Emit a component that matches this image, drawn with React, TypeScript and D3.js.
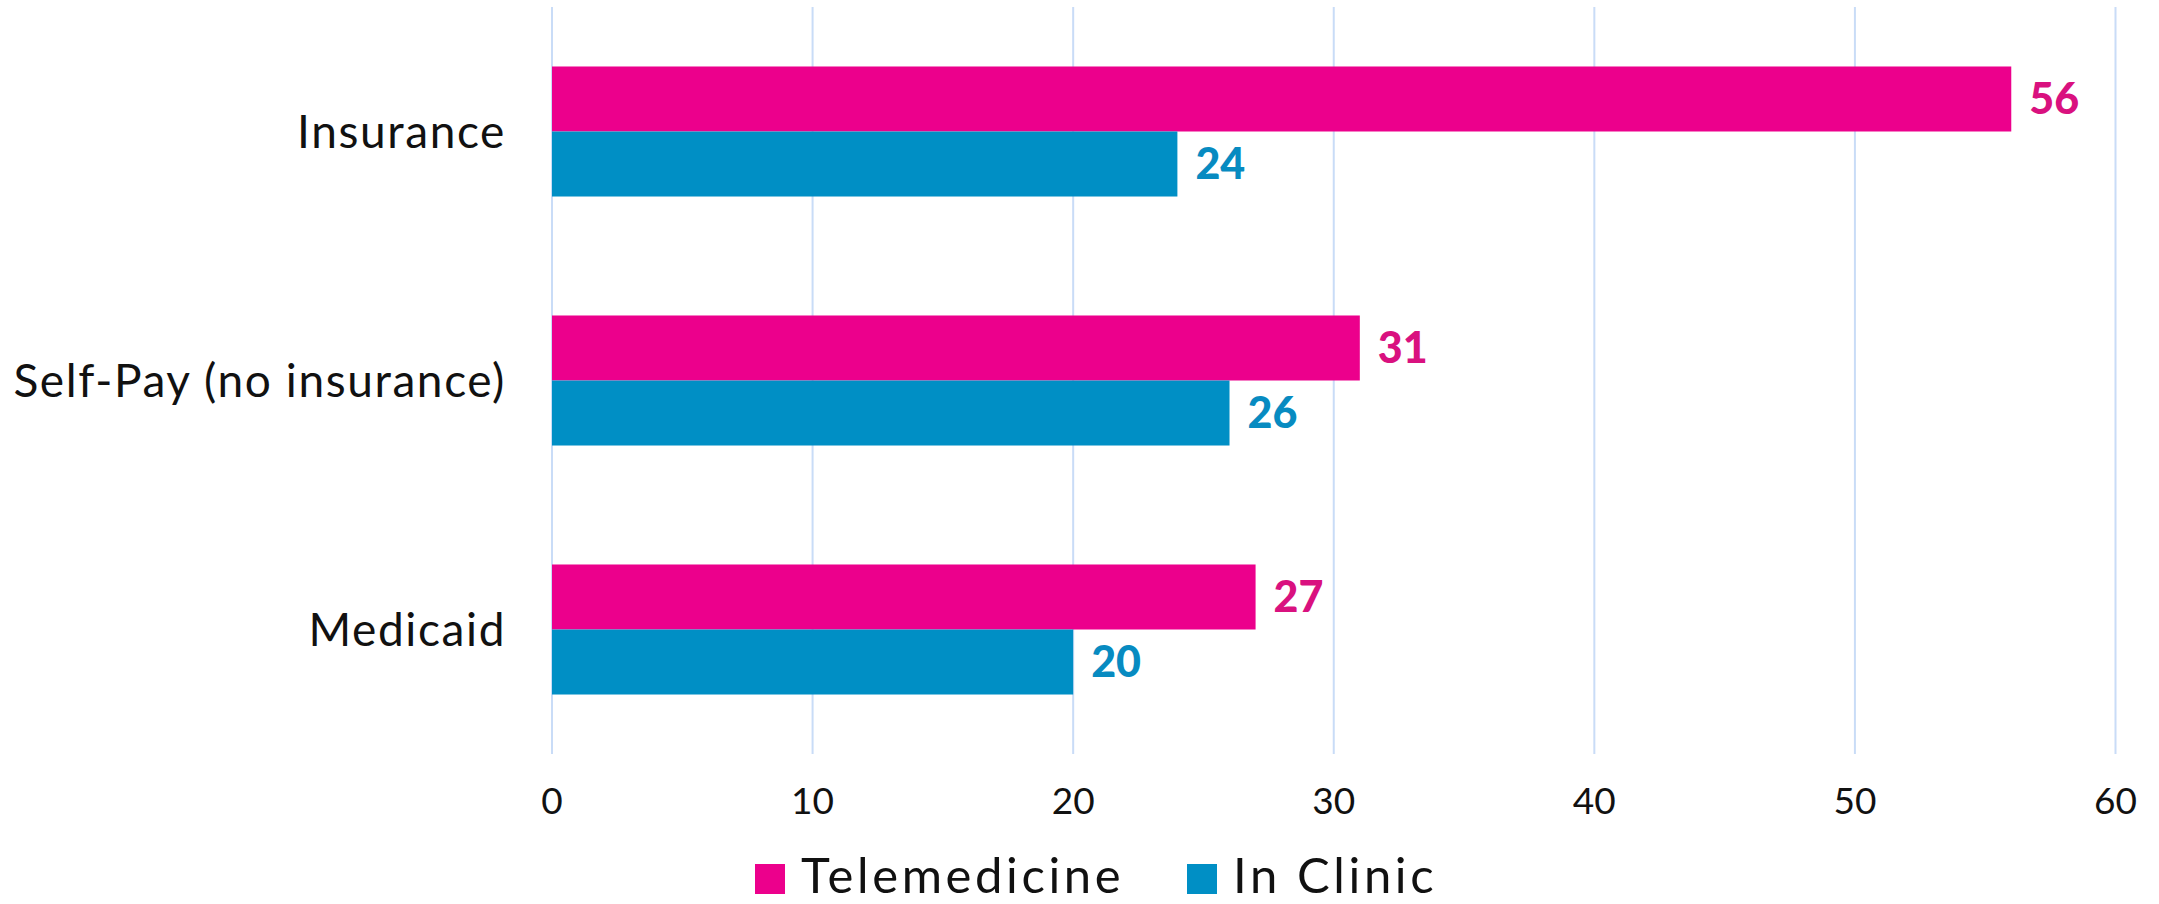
import React, { useEffect, useRef } from 'react';
import * as d3 from 'd3';

const categories = ['Insurance', 'Self-Pay (no insurance)', 'Medicaid'];
const seriesNames = ['Telemedicine', 'In Clinic'];
const telemedicine = [56, 31, 27];
const inClinic = [24, 26, 20];
const xTicks = [0, 10, 20, 30, 40, 50, 60];

const BAR_COLORS = ['#ec008c', '#008fc5'];
const LABEL_COLORS = ['#d9117f', '#078bc1'];

const App: React.FC = () => {
  const svgRef = useRef<SVGSVGElement>(null);

  useEffect(() => {
    if (!svgRef.current) {
      return;
    }
    const width = 2159;
    const height = 904;
    const left = 552;
    const right = 2115.5;
    const top = 7;
    const bottom = 754;

    const svg = d3.select(svgRef.current);
    svg.selectAll('*').remove();
    svg.attr('width', width).attr('height', height).attr('viewBox', `0 0 ${width} ${height}`);

    const x = d3.scaleLinear().domain([0, 60]).range([left, right]);
    const y = d3.scaleBand<string>().domain(categories).range([top, bottom]).paddingInner(0).paddingOuter(0);
    // two bars of ~65px centred in each 249px band
    const inner = d3
      .scaleBand<string>()
      .domain(seriesNames)
      .range([0, y.bandwidth()])
      .paddingInner(0)
      .paddingOuter(0.915);

    // grid
    svg
      .append('g')
      .selectAll('line')
      .data(xTicks)
      .enter()
      .append('line')
      .attr('x1', (d) => x(d))
      .attr('x2', (d) => x(d))
      .attr('y1', top)
      .attr('y2', bottom)
      .attr('stroke', '#c9dcf7')
      .attr('stroke-width', 2);

    // tick labels
    svg
      .append('g')
      .selectAll('text')
      .data(xTicks)
      .enter()
      .append('text')
      .attr('x', (d) => x(d))
      .attr('y', 814)
      .attr('text-anchor', 'middle')
      .attr('font-family', 'Lato')
      .attr('font-size', '37px')
      .attr('fill', '#111')
      .text((d) => String(d));

    // category labels
    svg
      .append('g')
      .selectAll('text')
      .data(categories)
      .enter()
      .append('text')
      .attr('x', 506)
      .attr('y', (d) => (y(d) ?? 0) + y.bandwidth() / 2)
      .attr('dy', '0.35em')
      .attr('text-anchor', 'end')
      .attr('font-family', 'Lato')
      .attr('font-size', '46px')
      .attr('letter-spacing', '1.6px')
      .attr('fill', '#111')
      .text((d) => d);

    const series = [telemedicine, inClinic];
    series.forEach((values, si) => {
      const g = svg.append('g');
      const name = seriesNames[si];
      g.selectAll('rect')
        .data(values)
        .enter()
        .append('rect')
        .attr('x', x(0))
        .attr('y', (_d, i) => (y(categories[i]) ?? 0) + (inner(name) ?? 0))
        .attr('width', (d) => x(d) - x(0))
        .attr('height', inner.bandwidth())
        .attr('fill', BAR_COLORS[si]);

      g.selectAll('text')
        .data(values)
        .enter()
        .append('text')
        .attr('x', (d) => x(d) + 18)
        .attr('y', (_d, i) => (y(categories[i]) ?? 0) + (inner(name) ?? 0) + inner.bandwidth() / 2)
        .attr('dy', '0.36em')
        .attr('font-family', 'Lato')
        .attr('font-weight', 900)
        .attr('font-size', '43px')
        .attr('fill', LABEL_COLORS[si])
        .text((d) => String(d));
    });

    // legend
    const legendX = [755, 1187];
    const legend = svg.append('g');
    seriesNames.forEach((name, i) => {
      const item = legend.append('g').attr('transform', `translate(${legendX[i]}, 864)`);
      item.append('rect').attr('width', 30).attr('height', 30).attr('fill', BAR_COLORS[i]);
      item
        .append('text')
        .attr('x', 46)
        .attr('y', 29)
        .attr('font-family', 'Lato')
        .attr('font-size', '49px')
        .attr('letter-spacing', '3.6px')
        .attr('fill', '#111')
        .text(name);
    });
  }, []);

  return (
    <div style={{ position: 'absolute', left: 0, top: 0, background: '#fff' }}>
      <svg ref={svgRef} style={{ display: 'block' }} />
    </div>
  );
};

export default App;
